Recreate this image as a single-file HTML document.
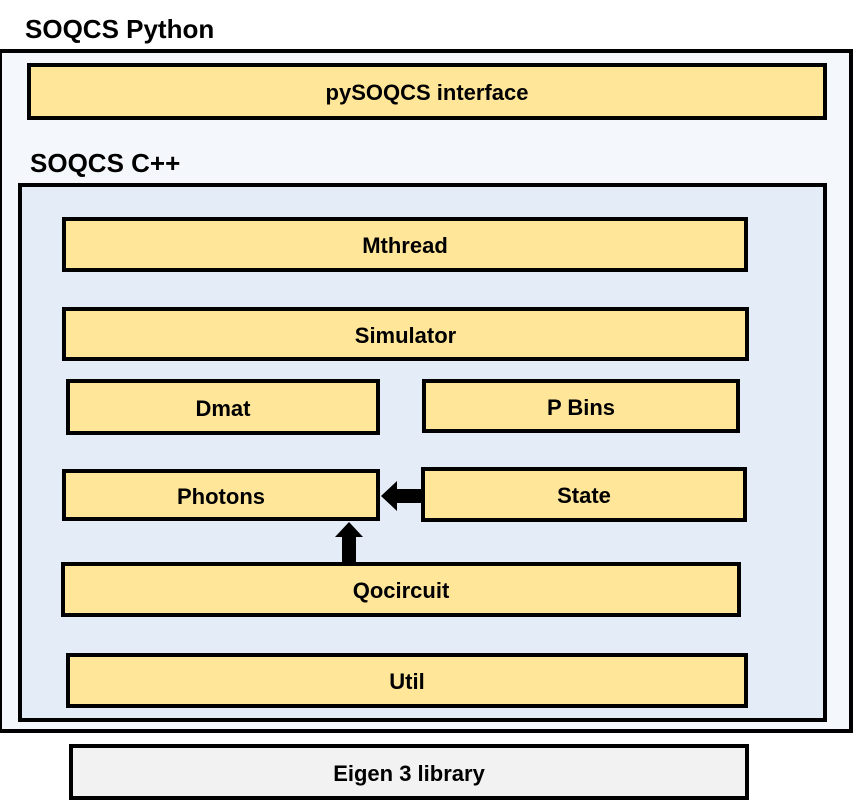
<!DOCTYPE html>
<html><head><style>
body{margin:0;width:853px;height:805px;background:#fff;position:relative;overflow:hidden;font-family:"Liberation Sans",sans-serif;font-weight:bold}
.b{position:absolute;box-sizing:border-box;border:4px solid #000;background:#ffe699;display:flex;align-items:center;justify-content:center;font-size:22px;color:#000;padding-top:3px}
.t{position:absolute;font-size:26px;color:#000}
</style></head><body>
<div class="t" style="left:25px;top:14px">SOQCS Python</div>
<div class="b" style="left:-2px;top:49px;width:855px;height:684px;background:#f4f8fc"></div>
<div class="b" style="left:27px;top:63px;width:800px;height:57px">pySOQCS interface</div>
<div class="t" style="left:30px;top:148px">SOQCS C++</div>
<div class="b" style="left:18px;top:183px;width:809px;height:539px;background:#e3ecf7"></div>
<div class="b" style="left:62px;top:217px;width:686px;height:55px">Mthread</div>
<div class="b" style="left:62px;top:307px;width:687px;height:54px">Simulator</div>
<div class="b" style="left:66px;top:379px;width:314px;height:56px">Dmat</div>
<div class="b" style="left:422px;top:379px;width:318px;height:54px">P Bins</div>
<div class="b" style="left:62px;top:469px;width:318px;height:52px">Photons</div>
<div class="b" style="left:421px;top:467px;width:326px;height:55px">State</div>
<div class="b" style="left:61px;top:562px;width:680px;height:55px">Qocircuit</div>
<div class="b" style="left:66px;top:653px;width:682px;height:55px">Util</div>
<div class="b" style="left:69px;top:744px;width:680px;height:56px;background:#f2f2f2">Eigen 3 library</div>
<svg style="position:absolute;left:0;top:0" width="853" height="805">
<polygon points="381,496 397,481 397,489 421,489 421,503 397,503 397,511" fill="#000"/>
<polygon points="349,522 363,537 356,537 356,563 342,563 342,537 335,537" fill="#000"/>
</svg>
</body></html>
